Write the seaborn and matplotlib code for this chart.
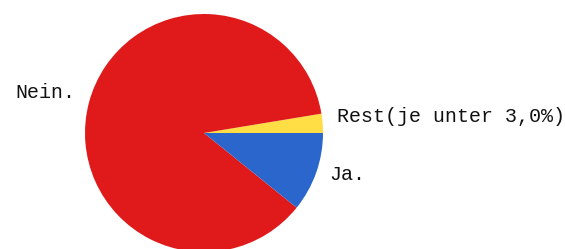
import matplotlib
matplotlib.use("Agg")
import matplotlib.pyplot as plt
import matplotlib.transforms as mtransforms
import seaborn as sns

# data (percent)
labels = ["Rest(je unter 3,0%)", "Nein.", "Ja."]
shares = [2.6, 86.6, 10.8]
colors = ["#FFDD44", "#E01A1A", "#2A66CC"]
# small vertical nudges of the labels (pixels, up is positive)
label_nudge = [6, 7, 3]

sns.set_theme(style="white")
plt.rcParams["font.family"] = ["Liberation Mono", "DejaVu Sans Mono"]

fig = plt.figure(figsize=(5.65, 2.49), dpi=100)
ax = fig.add_axes([0, 0, 1, 1])

wedges, texts = ax.pie(shares, labels=labels, colors=colors, startangle=0,
                       counterclock=True, labeldistance=1.12,
                       wedgeprops={"linewidth": 0},
                       textprops={"fontsize": 14.4, "color": "#111111"})

for t, dy in zip(texts, label_nudge):
    t.set_transform(mtransforms.offset_copy(ax.transData, fig=fig, x=0, y=dy, units="dots"))

# pie centre sits at (204, 133) px with radius ~119 px
ax.set_aspect("auto")
ax.set_xlim(-204 / 119, (565 - 204) / 119)
ax.set_ylim(-(249 - 133) / 119, 133 / 119)
ax.axis("off")

fig.savefig("out.png", dpi=100)
